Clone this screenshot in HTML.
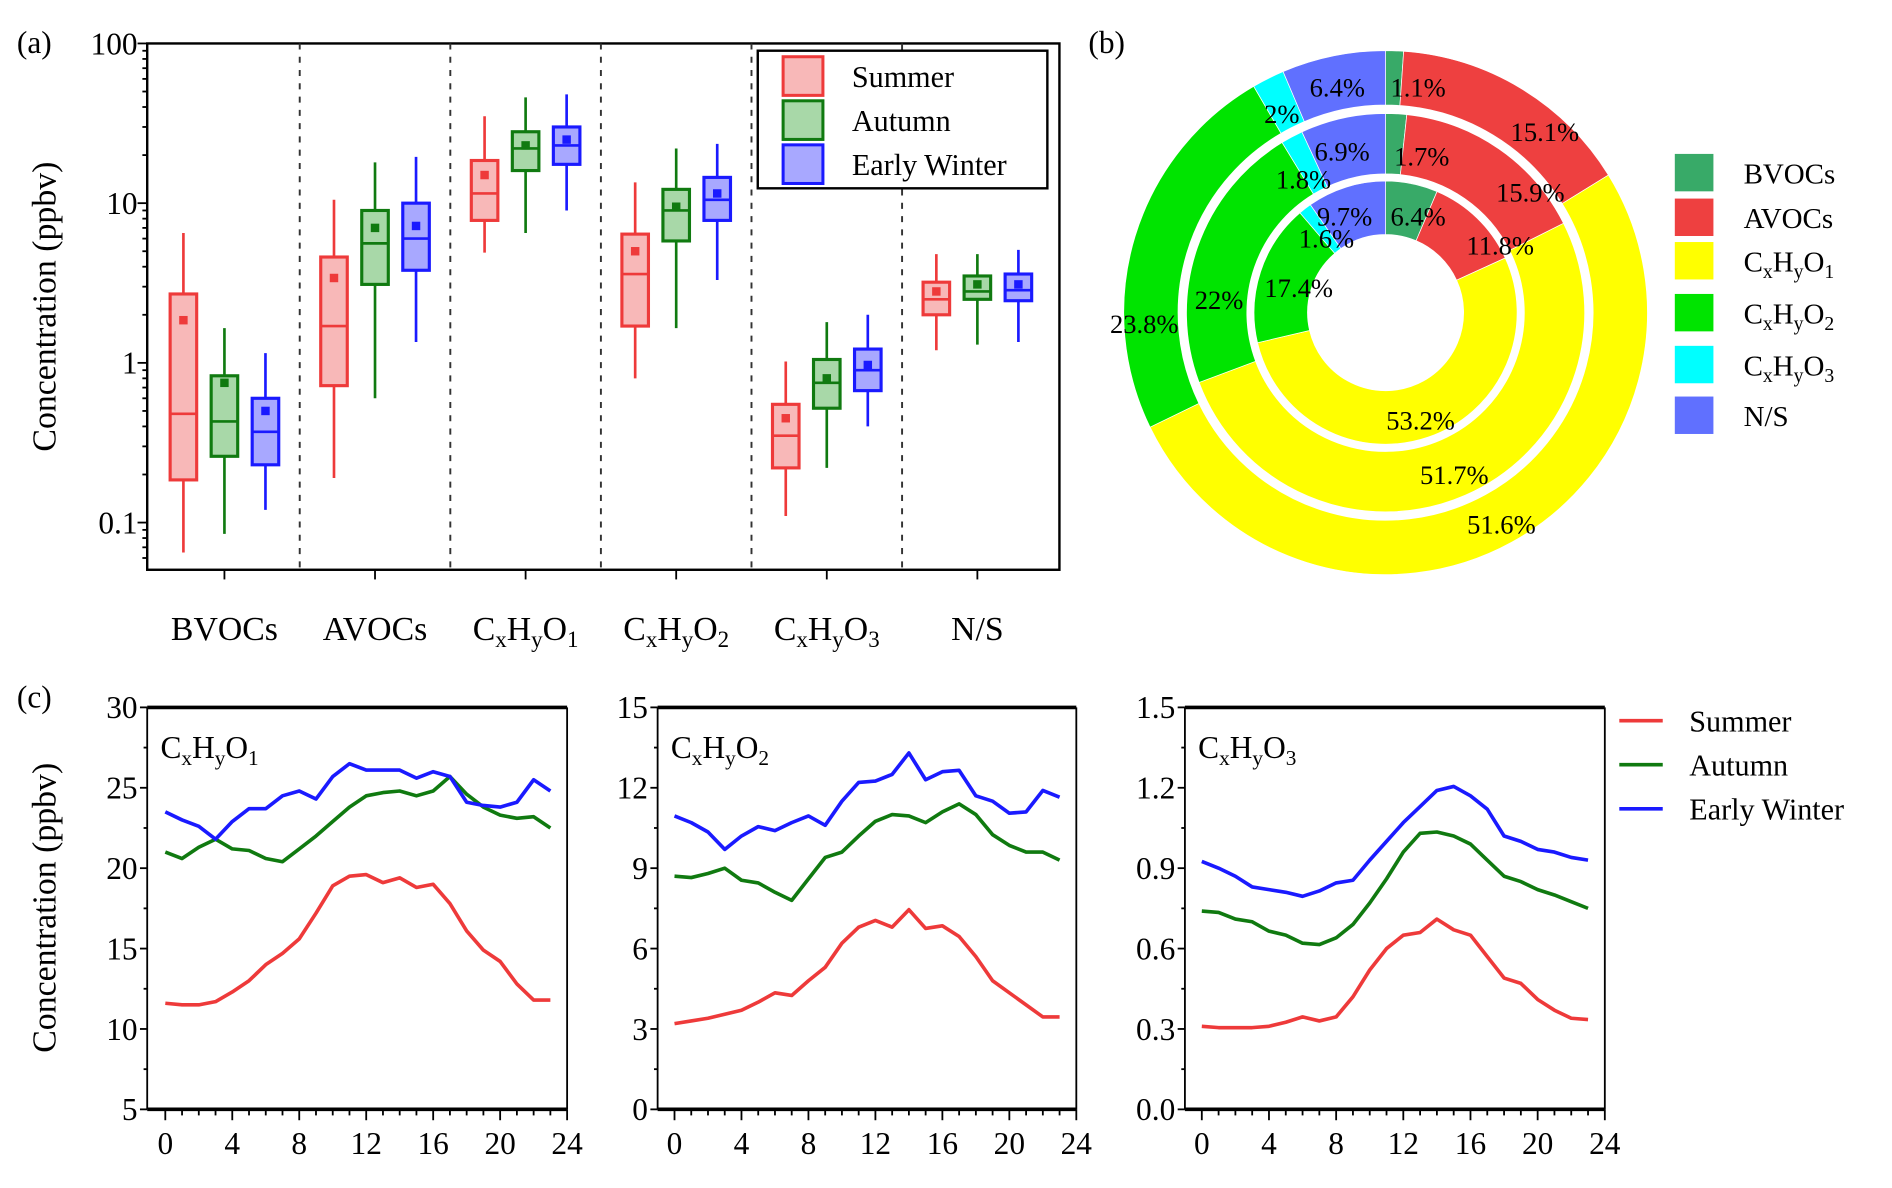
<!DOCTYPE html>
<html><head><meta charset="utf-8"><style>
html,body{margin:0;padding:0;background:#fff}
svg, svg text{font-family:"Liberation Serif","Times New Roman","DejaVu Serif",serif}
</style></head><body>
<svg id="fig" width="1892" height="1183" viewBox="0 0 1568 980" preserveAspectRatio="none" xmlns="http://www.w3.org/2000/svg" font-family="Liberation Serif, Times New Roman, serif">
<g id="pa"></g>
<g id="pb"></g>
<g id="pc"></g>
</svg>
<script>
// ---- Panel (a) data ----
const catsA = ["BVOCs","AVOCs","O1","O2","O3","N/S"];
const seasons = ["Summer","Autumn","Early Winter"];
const lowA  = [[0.065,0.085,0.12],[0.19,0.6,1.35],[4.9,6.5,9],[0.8,1.65,3.3],[0.11,0.22,0.4],[1.2,1.3,1.35]];
const q1A   = [[0.185,0.26,0.23],[0.72,3.1,3.8],[7.8,16,17.5],[1.7,5.8,7.8],[0.22,0.52,0.67],[2.0,2.5,2.45]];
const medA  = [[0.48,0.43,0.37],[1.7,5.6,6.0],[11.5,22,23],[3.6,9,10.5],[0.35,0.75,0.9],[2.5,2.8,2.85]];
const q3A   = [[2.7,0.83,0.6],[4.6,9,10],[18.5,28,30],[6.4,12.2,14.5],[0.55,1.05,1.22],[3.2,3.5,3.6]];
const highA = [[6.5,1.65,1.15],[10.5,18,19.5],[35,46,48],[13.5,22,23.5],[1.02,1.8,2.0],[4.8,4.8,5.1]];
const meanA = [[1.85,0.75,0.5],[3.4,7,7.2],[15,23,25],[5,9.5,11.5],[0.45,0.8,0.97],[2.8,3.1,3.1]];
const yTicksA = [0.1,1,10,100];
const yTickLabelsA = ["0.1","1","10","100"];
// ---- Panel (b) data ----
const donutCats = ["BVOCs","AVOCs","O1","O2","O3","N/S"];
const innerRing = [6.4,11.8,53.2,17.4,1.6,9.7];
const middleRing = [1.7,15.9,51.7,22,1.8,6.9];
const outerRing = [1.1,15.1,51.6,23.8,2,6.4];
// ---- Panel (c) data ----
const hours = [0,1,2,3,4,5,6,7,8,9,10,11,12,13,14,15,16,17,18,19,20,21,22,23];
const o1Summer = [11.6,11.5,11.5,11.7,12.3,13,14,14.7,15.6,17.2,18.9,19.5,19.6,19.1,19.4,18.8,19.0,17.8,16.1,14.9,14.2,12.8,11.8,11.8];
const o1Autumn = [21.0,20.6,21.3,21.8,21.2,21.1,20.6,20.4,21.2,22.0,22.9,23.8,24.5,24.7,24.8,24.5,24.8,25.7,24.6,23.8,23.3,23.1,23.2,22.5];
const o1Winter = [23.5,23.0,22.6,21.8,22.9,23.7,23.7,24.5,24.8,24.3,25.7,26.5,26.1,26.1,26.1,25.6,26.0,25.7,24.1,23.9,23.8,24.1,25.5,24.8];
const o2Summer = [3.2,3.3,3.4,3.55,3.7,4.0,4.35,4.25,4.8,5.3,6.2,6.8,7.05,6.8,7.45,6.75,6.85,6.45,5.7,4.8,4.35,3.9,3.45,3.45];
const o2Autumn = [8.7,8.65,8.8,9.0,8.55,8.45,8.1,7.8,8.6,9.4,9.6,10.2,10.75,11.0,10.95,10.7,11.1,11.4,11.0,10.25,9.85,9.6,9.6,9.3];
const o2Winter = [10.95,10.7,10.35,9.7,10.2,10.55,10.4,10.7,10.95,10.6,11.5,12.2,12.25,12.5,13.3,12.3,12.6,12.65,11.7,11.5,11.05,11.1,11.9,11.65];
const o3Summer = [0.31,0.305,0.305,0.305,0.31,0.325,0.345,0.33,0.345,0.42,0.52,0.6,0.65,0.66,0.71,0.67,0.65,0.57,0.49,0.47,0.41,0.37,0.34,0.335];
const o3Autumn = [0.74,0.735,0.71,0.70,0.665,0.65,0.62,0.615,0.64,0.69,0.77,0.86,0.96,1.03,1.035,1.02,0.99,0.93,0.87,0.85,0.82,0.80,0.775,0.75];
const o3Winter = [0.925,0.9,0.87,0.83,0.82,0.81,0.795,0.815,0.845,0.855,0.93,1.0,1.07,1.13,1.19,1.205,1.17,1.12,1.02,1.0,0.97,0.96,0.94,0.93];
const xTicksC = [0,4,8,12,16,20,24];
const yTicks1 = [5,10,15,20,25,30];
const yTicks2 = [0,3,6,9,12,15];
const yTicks3 = [0,0.3,0.6,0.9,1.2,1.5];
const yTickLabels3 = ["0.0","0.3","0.6","0.9","1.2","1.5"];

const NS="http://www.w3.org/2000/svg";
const FF="Liberation Serif, Times New Roman, DejaVu Serif, serif";
function mk(tag,attrs,parent){const e=document.createElementNS(NS,tag);for(const k in attrs)e.setAttribute(k,attrs[k]);if(parent)parent.appendChild(e);return e;}
function txt(parent,x,y,s,size,anchor){const t=mk("text",{x:x,y:y,"font-size":size,"text-anchor":anchor||"middle","font-family":FF},parent);t.textContent=s;return t;}
function chem(parent,x,y,n,size,anchor){
  const t=mk("text",{x:x,y:y,"font-size":size,"text-anchor":anchor||"middle","font-family":FF},parent);
  const parts=[["C",0],["x",1],["H",0],["y",1],["O",0],[String(n),1]];
  parts.forEach(p=>{const s=mk("tspan",{},t);s.textContent=p[0];if(p[1]){s.setAttribute("font-size",size*0.68);s.setAttribute("dy",size*0.22);}else{s.setAttribute("dy",-size*0.22);} });
  t.firstChild.setAttribute("dy",0);
  return t;
}
const colS="#ee3a3a",colA="#107a10",colW="#1a1aff";
const fillS="#f8b8b8",fillA="#a8d8a8",fillW="#a8a8ff";
const lineCols=[colS,colA,colW], fillCols=[fillS,fillA,fillW];

// ===== Panel A =====
(function(){
const g=document.getElementById("pa");
const L=122,R=878,T=36,B=472;
const dec=132.3, y100=36;
const ya=v=>y100+(2-Math.log10(v))*dec;
const xc=i=>186+i*124.8;
const lbl=txt(g,14,44,"(a)",26,"start");


mk("rect",{x:L,y:T,width:R-L,height:B-T,fill:"none",stroke:"#000","stroke-width":2},g);
for(let i=0;i<5;i++){const x=(xc(i)+xc(i+1))/2;const d=mk("line",{x1:x,y1:T,x2:x,y2:B,stroke:"#333","stroke-width":1.6,"stroke-dasharray":"5,6"},g);

}
for(let e=-2;e<=1;e++){for(let m=1;m<10;m++){const v=m*Math.pow(10,e);const y=ya(v);if(y<T-0.5||y>B)continue;mk("line",{x1:L,y1:y,x2:L-(m===1?8:4),y2:y,stroke:"#000","stroke-width":1.5},g);}}
mk("line",{x1:L,y1:ya(100),x2:L-8,y2:ya(100),stroke:"#000","stroke-width":1.5},g);
yTicksA.forEach((v,i)=>{const t=txt(g,L-8,ya(v)+9,yTickLabelsA[i],26,"end");

});
const yt=txt(g,0,0,"Concentration (ppbv)",28);
yt.setAttribute("transform","translate(46,254) rotate(-90)");


catsA.forEach((c,i)=>{
  const x=xc(i);
  mk("line",{x1:x,y1:B,x2:x,y2:B+8,stroke:"#000","stroke-width":1.5},g);
  let t;
  if(c.length===2 && c[0]==="O") t=chem(g,x,530,c[1],28); else t=txt(g,x,530,c,28);
  
  
  for(let s=0;s<3;s++){
    const bx=x+(s-1)*34, w=22, col=lineCols[s];
    const bg=mk("g",{},g);
    
    
    mk("line",{x1:bx,y1:ya(highA[i][s]),x2:bx,y2:ya(lowA[i][s]),stroke:col,"stroke-width":2.2},bg);
    mk("rect",{x:bx-w/2,y:ya(q3A[i][s]),width:w,height:ya(q1A[i][s])-ya(q3A[i][s]),fill:fillCols[s],stroke:col,"stroke-width":2.6},bg);
    mk("line",{x1:bx-w/2,y1:ya(medA[i][s]),x2:bx+w/2,y2:ya(medA[i][s]),stroke:col,"stroke-width":2.2},bg);
    mk("rect",{x:bx-3.5,y:ya(meanA[i][s])-3.5,width:7,height:7,fill:col},bg);
  }
});
const lg=mk("g",{},g);


mk("rect",{x:628,y:42,width:240,height:114,fill:"#fff",stroke:"#000","stroke-width":2},lg);
seasons.forEach((s,i)=>{const y=63+i*36.5;
 const e=mk("g",{},lg);
 
 
 mk("rect",{x:649,y:y-16,width:33,height:32,fill:fillCols[i],stroke:lineCols[i],"stroke-width":2.5},e);
 txt(e,706,y+9,s,25,"start");});
})();

// ===== Panel B =====
(function(){
const g=document.getElementById("pb");
const cx=1148.3,cy=259;
const colsB=["#38aa68","#ee4040","#ffff00","#00e400","#00ffff","#6070ff"];
const lb=txt(g,902,44,"(b)",26,"start");


function arc(r0,r1,a0,a1){
 const p=(r,a)=>[cx+r*Math.sin(a),cy-r*Math.cos(a)];
 const lg=(a1-a0)>Math.PI?1:0;
 const [x0,y0]=p(r1,a0),[x1,y1]=p(r1,a1),[x2,y2]=p(r0,a1),[x3,y3]=p(r0,a0);
 return `M${x0},${y0}A${r1},${r1} 0 ${lg} 1 ${x1},${y1}L${x2},${y2}A${r0},${r0} 0 ${lg} 0 ${x3},${y3}Z`;
}
const rings=[[innerRing,64.7,109,"inner-ring"],[middleRing,115,165,"middle-ring"],[outerRing,172,217,"outer-ring"]];
// label anchor offsets relative to donut centre (layout only)
const labelPos=[
 [[27,-80],[95,-56],[29,89],[-72,-21],[-49,-62],[-34,-80]],
 [[30,-130],[120,-100],[57,134],[-138,-11],[-68,-111],[-36,-134]],
 [[27,-187],[132,-150],[96,175],[-200,9],[-86,-165],[-40,-187]]
];
rings.forEach(([vals,r0,r1,nm],ri)=>{
 const tot=vals.reduce((a,b)=>a+b,0);
 let a=0;
 vals.forEach((v,i)=>{
  const a1=a+v/tot*2*Math.PI;
  const p=mk("path",{d:arc(r0,r1,a,a1),fill:colsB[i],stroke:"#fff","stroke-width":0.6},g);
  
  
  a=a1;
 });
});
rings.forEach(([vals,r0,r1,nm],ri)=>{
 vals.forEach((v,i)=>{
  const t=txt(g,cx+labelPos[ri][i][0],cy+labelPos[ri][i][1]+8,String(v)+"%",22);
  
  
 });
});
const ly=[143,180,216,259,302,344];
donutCats.forEach((c,i)=>{
 const e=mk("g",{},g);
 
 
 mk("rect",{x:1388,y:ly[i]-15.5,width:32,height:31,fill:colsB[i]},e);
 if(c[0]==="O") chem(e,1445,ly[i]+9,c[1],24,"start"); else txt(e,1445,ly[i]+9,c,24,"start");
});
})();

// ===== Panel C =====
(function(){
const g=document.getElementById("pc");
const T=586,B=919;
const lc=txt(g,14,586,"(c)",26,"start");


const yt=txt(g,0,0,"Concentration (ppbv)",28);
yt.setAttribute("transform","translate(46,752) rotate(-90)");


const panels=[
 {L:122,R:470,x0:137,min:5,max:30,ticks:yTicks1,labels:yTicks1.map(String),n:1,data:[o1Summer,o1Autumn,o1Winter]},
 {L:545,R:892,x0:559,min:0,max:15,ticks:yTicks2,labels:yTicks2.map(String),n:2,data:[o2Summer,o2Autumn,o2Winter]},
 {L:982,R:1330,x0:996,min:0,max:1.5,ticks:yTicks3,labels:yTickLabels3,n:3,data:[o3Summer,o3Autumn,o3Winter]}
];
panels.forEach((p,pi)=>{
 const pg=mk("g",{},g);
 
 
 const xs=h=>p.x0+(p.R-p.x0)*h/24;
 const ys=v=>B-(v-p.min)/(p.max-p.min)*(B-T);
 mk("line",{x1:p.L,y1:T,x2:p.L,y2:B,stroke:"#000","stroke-width":1.5},pg);
 mk("line",{x1:p.R,y1:T,x2:p.R,y2:B,stroke:"#000","stroke-width":1.5},pg);
 mk("line",{x1:p.L,y1:T,x2:p.R,y2:T,stroke:"#000","stroke-width":3},pg);
 mk("line",{x1:p.L,y1:B,x2:p.R,y2:B,stroke:"#000","stroke-width":3},pg);
 p.ticks.forEach((v,i)=>{
  mk("line",{x1:p.L,y1:ys(v),x2:p.L-6,y2:ys(v),stroke:"#000","stroke-width":1.5},pg);
  if(i<p.ticks.length-1){const vm=(v+p.ticks[i+1])/2;mk("line",{x1:p.L,y1:ys(vm),x2:p.L-3,y2:ys(vm),stroke:"#000","stroke-width":1.5},pg);}
  const t=txt(pg,p.L-8,ys(v)+9,p.labels[i],26,"end");
  
  
 });
 for(let h=0;h<=24;h++){mk("line",{x1:xs(h),y1:B,x2:xs(h),y2:B+(h%4===0?9:5),stroke:"#000","stroke-width":1.5},pg);}
 xTicksC.forEach(h=>{const t=txt(pg,xs(h),956,String(h),26);
  
  });
 const tl=chem(pg,p.L+11,628,p.n,26,"start");
 
 
 p.data.forEach((arr,si)=>{
  const d=hours.map((h,i)=>(i?"L":"M")+xs(h)+","+ys(arr[i])).join("");
  const l=mk("path",{d:d,fill:"none",stroke:lineCols[si],"stroke-width":3,"stroke-linejoin":"round"},pg);
  
  
 });
});
seasons.forEach((s,i)=>{const y=597+i*36.5;
 const e=mk("g",{},g);
 
 
 mk("line",{x1:1342,y1:y,x2:1378,y2:y,stroke:lineCols[i],"stroke-width":3},e);
 txt(e,1400,y+9,s,25,"start");});
})();
</script>
</body></html>
